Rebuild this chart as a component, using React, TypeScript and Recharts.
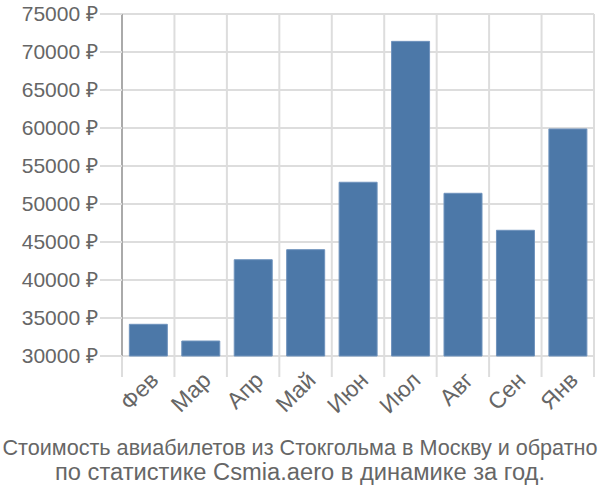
import React from 'react';
import { BarChart, Bar, XAxis, YAxis, CartesianGrid } from 'recharts';

const months = ['Фев', 'Мар', 'Апр', 'Май', 'Июн', 'Июл', 'Авг', 'Сен', 'Янв'];
const prices = [34170, 31970, 42670, 43990, 52860, 71400, 51410, 46540, 59870];
const yTicks = [30000, 35000, 40000, 45000, 50000, 55000, 60000, 65000, 70000, 75000];
const titleLines = [
    'Стоимость авиабилетов из Стокгольма в Москву и обратно',
    'по статистике Csmia.aero в динамике за год.'
];

const W = 600;
const H = 430;
const LEFT = 122;
const RIGHT = 6;
const BAND = (W - LEFT - RIGHT) / months.length;
const FONT = '"Liberation Sans", Arial, sans-serif';

const chartData = months.map((m, i) => ({ month: m, price: prices[i] }));

const MonthTick = ({ x, y, payload, index }: any) => {
    const left = x - BAND / 2;
    const tx = x + 6;
    const ty = y + 12;
    return (
        <g>
            <line x1={left} y1={y - 8} x2={left} y2={y + 13} stroke="#ddd" strokeWidth={2} />
            {index === months.length - 1 && (
                <line x1={left + BAND} y1={y - 8} x2={left + BAND} y2={y + 13} stroke="#ddd" strokeWidth={2} />
            )}
            <text
                x={tx}
                y={ty}
                transform={`rotate(-45 ${tx} ${ty})`}
                textAnchor="end"
                dominantBaseline="central"
                fill="#666"
                fontSize={23}
                fontFamily={FONT}
            >
                {payload.value}
            </text>
        </g>
    );
};

export default function App() {
    return (
        <div style={{ position: 'absolute', left: 0, top: 0, width: 600, height: 500, background: '#fff' }}>
            <BarChart
                width={W}
                height={H}
                data={chartData}
                margin={{ top: 14, right: RIGHT, left: 0, bottom: 0 }}
                barCategoryGap="14%"
            >
                <CartesianGrid
                    stroke="#ddd"
                    strokeWidth={2}
                    verticalCoordinatesGenerator={({ offset }: any) =>
                        months.map((_, i) => offset.left + i * (offset.width / months.length)).concat(offset.left + offset.width)
                    }
                />
                <XAxis
                    dataKey="month"
                    height={74}
                    axisLine={false}
                    tickLine={false}
                    interval={0}
                    tick={<MonthTick />}
                />
                <YAxis
                    width={LEFT}
                    domain={[30000, 75000]}
                    ticks={yTicks}
                    interval={0}
                    tickFormatter={(v) => `${v} ₽`}
                    axisLine={{ stroke: '#aaa', strokeWidth: 2 }}
                    tickLine={{ stroke: '#ddd', strokeWidth: 2 }}
                    tickSize={22}
                    tickMargin={2}
                    tick={{ fill: '#666', fontSize: 21, fontFamily: FONT }}
                />
                <Bar dataKey="price" fill="#4c78a8" stroke="#6f93bd" strokeWidth={1} isAnimationActive={false} />
            </BarChart>
            <svg width={600} height={70} style={{ position: 'absolute', left: 0, top: 430 }}>
                <text
                    x={300}
                    y={25}
                    textAnchor="middle"
                    fill="#666"
                    fontSize={21.6}
                    fontFamily={'"Liberation Sans Narrow", ' + FONT}
                >
                    {titleLines[0]}
                </text>
                <text
                    x={300}
                    y={50}
                    textAnchor="middle"
                    fill="#666"
                    fontSize={23}
                    fontFamily={FONT}
                    textLength={490}
                    lengthAdjust="spacingAndGlyphs"
                >
                    {titleLines[1]}
                </text>
            </svg>
        </div>
    );
}
